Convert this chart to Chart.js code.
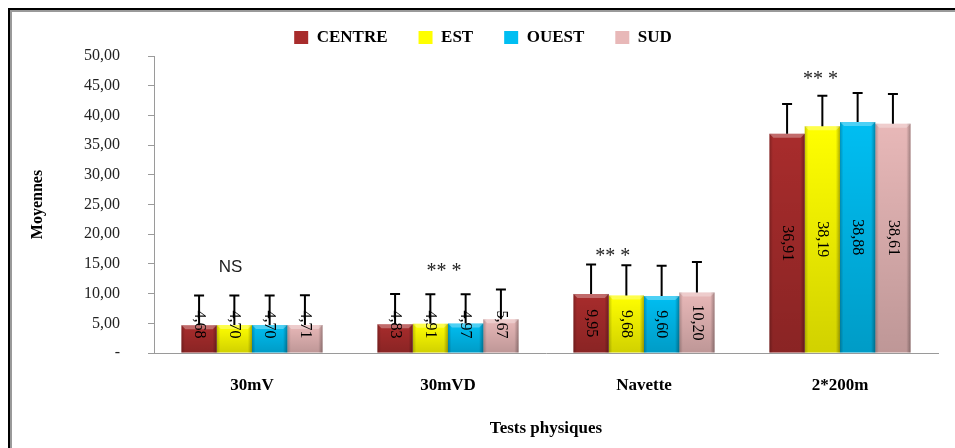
<!DOCTYPE html>
<html>
<head>
<meta charset="utf-8">
<script src="https://cdn.jsdelivr.net/npm/chart.js@4.4.1/dist/chart.umd.min.js"></script>
<style>
  html, body { margin: 0; padding: 0; background: #fff; }
  canvas { display: block; }
</style>
</head>
<body>
<canvas id="testsChart" width="955" height="448"></canvas>
<script>
let categories = ['30mV', '30mVD', 'Navette', '2*200m'];

let centre = [4.68, 4.83, 9.95, 36.91];
let est = [4.70, 4.91, 9.68, 38.19];
let ouest = [4.70, 4.97, 9.60, 38.88];
let sud = [4.71, 5.67, 10.20, 38.61];

// standard deviations (upper error bars)
let centreSd = [5.0, 5.1, 4.95, 5.0];
let estSd = [5.0, 5.0, 5.1, 5.1];
let ouestSd = [5.0, 4.9, 5.1, 4.9];
let sudSd = [5.0, 5.0, 5.1, 5.0];

// significance marks above each group
let marks = ['NS', '** *', '** *', '** *'];
let markX = [-0.11, 0.98, 1.84, 2.90];
let markY = [14.4, 14.3, 16.9, 46.6];

function fmt(v) {
    return v.toFixed(2).replace('.', ',');
}

let serif = "'Liberation Serif', 'Times New Roman', serif";

// frame round the chart
const framePlugin = {
    id: 'frame',
    beforeDraw(chart) {
        const ctx = chart.ctx;
        ctx.save();
        ctx.fillStyle = '#fff';
        ctx.fillRect(0, 0, chart.width, chart.height);
        ctx.fillStyle = '#000';
        ctx.fillRect(8, 8, 2, chart.height - 8);
        ctx.fillRect(8, 8, chart.width - 8, 2);
        ctx.fillStyle = '#9a9a9a';
        ctx.fillRect(10, 10, 2, chart.height - 10);
        ctx.fillRect(10, 10, chart.width - 10, 2);
        ctx.restore();
    }
};

// bevel shading, value labels, error bars and marks
const barExtras = {
    id: 'barExtras',
    afterDatasetsDraw(chart) {
        const ctx = chart.ctx;
        const y = chart.scales.y;
        const x = chart.scales.x;

        chart.data.datasets.forEach((ds, di) => {
            chart.getDatasetMeta(di).data.forEach(bar => {
                const l = bar.x - bar.width / 2;
                const r = bar.x + bar.width / 2;
                const h = bar.base - bar.y;
                ctx.save();
                let g = ctx.createLinearGradient(l, 0, r, 0);
                g.addColorStop(0, 'rgba(0,0,0,0.22)');
                g.addColorStop(0.1, 'rgba(0,0,0,0)');
                g.addColorStop(0.88, 'rgba(0,0,0,0)');
                g.addColorStop(1, 'rgba(0,0,0,0.3)');
                ctx.fillStyle = g;
                ctx.fillRect(l, bar.y, bar.width, h);
                let gv = ctx.createLinearGradient(0, bar.y, 0, bar.base);
                gv.addColorStop(0, 'rgba(0,0,0,0)');
                gv.addColorStop(1, 'rgba(0,0,0,0.18)');
                ctx.fillStyle = gv;
                ctx.fillRect(l, bar.y, bar.width, h);
                ctx.fillStyle = 'rgba(255,255,255,0.3)';
                ctx.beginPath();
                ctx.moveTo(l, bar.y);
                ctx.lineTo(r, bar.y);
                ctx.lineTo(r - 4, bar.y + 4);
                ctx.lineTo(l + 4, bar.y + 4);
                ctx.closePath();
                ctx.fill();
                ctx.restore();
            });
        });

        chart.data.datasets.forEach((ds, di) => {
            chart.getDatasetMeta(di).data.forEach((bar, i) => {
                const mid = Math.min((bar.y + bar.base) / 2, bar.base - 28);
                ctx.save();
                ctx.translate(bar.x, mid);
                ctx.rotate(Math.PI / 2);
                ctx.font = '16px ' + serif;
                ctx.fillStyle = '#000';
                ctx.textAlign = 'center';
                ctx.textBaseline = 'middle';
                ctx.fillText(fmt(ds.data[i]), 0, 0);
                ctx.restore();
            });
        });

        chart.data.datasets.forEach((ds, di) => {
            chart.getDatasetMeta(di).data.forEach((bar, i) => {
                const top = y.getPixelForValue(ds.data[i] + ds.sd[i]);
                ctx.save();
                ctx.strokeStyle = '#000';
                ctx.lineWidth = 2;
                ctx.beginPath();
                ctx.moveTo(bar.x, bar.y);
                ctx.lineTo(bar.x, top);
                ctx.moveTo(bar.x - 5, top);
                ctx.lineTo(bar.x + 5, top);
                ctx.stroke();
                ctx.restore();
            });
        });

        marks.forEach((m, i) => {
            ctx.save();
            ctx.fillStyle = '#222';
            ctx.textAlign = 'center';
            ctx.textBaseline = 'middle';
            ctx.font = m === 'NS' ? "17px 'Liberation Sans', Arial, sans-serif" : '20px ' + serif;
            ctx.fillText(m, x.getPixelForValue(markX[i]), y.getPixelForValue(markY[i]) + (m === 'NS' ? 0 : 4));
            ctx.restore();
        });
    }
};

let testsChart = document.getElementById('testsChart');

new Chart(testsChart, {
    type: 'bar',
    data: {
        labels: categories,
        datasets: [
            { label: 'CENTRE', data: centre, sd: centreSd, backgroundColor: '#a82c2c' },
            { label: 'EST', data: est, sd: estSd, backgroundColor: '#ffff00' },
            { label: 'OUEST', data: ouest, sd: ouestSd, backgroundColor: '#00bef2' },
            { label: 'SUD', data: sud, sd: sudSd, backgroundColor: '#e8b8b8' }
        ]
    },
    options: {
        responsive: false,
        animation: false,
        barPercentage: 1,
        categoryPercentage: 0.72,
        layout: {
            padding: { top: -2, left: 28, right: 17, bottom: 0 }
        },
        scales: {
            x: {
                grid: { display: true, drawOnChartArea: false, drawTicks: false },
                border: { color: '#9a9a9a' },
                ticks: {
                    padding: 22,
                    color: '#000',
                    font: { family: serif, size: 17, weight: 'bold' }
                },
                title: {
                    display: true,
                    text: 'Tests physiques',
                    color: '#000',
                    padding: { top: 13, bottom: 9 },
                    font: { family: serif, size: 17, weight: 'bold' }
                },
                afterFit: s => { s.height = 95; }
            },
            y: {
                min: 0,
                max: 50,
                ticks: {
                    stepSize: 5,
                    padding: 28,
                    color: '#222',
                    font: { family: serif, size: 16 },
                    callback: v => v === 0 ? '-' : fmt(v)
                },
                grid: { drawOnChartArea: false, drawTicks: true, tickLength: 6, color: '#9a9a9a' },
                border: { color: '#9a9a9a' },
                title: {
                    display: true,
                    text: 'Moyennes',
                    color: '#000',
                    padding: 0,
                    font: { family: serif, size: 16, weight: 'bold' }
                },
                afterFit: s => { s.width = 126; }
            }
        },
        plugins: {
            legend: {
                labels: {
                    boxWidth: 14,
                    boxHeight: 13,
                    padding: 31,
                    color: '#000',
                    font: { family: serif, size: 17, weight: 'bold' }
                }
            },
            tooltip: { enabled: false }
        }
    },
    plugins: [framePlugin, barExtras]
});
</script>
</body>
</html>
